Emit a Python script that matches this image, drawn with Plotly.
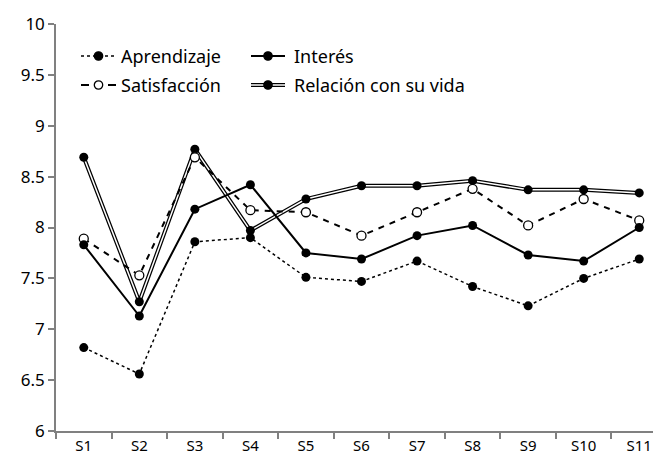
import plotly.graph_objects as go

categories = ["S1", "S2", "S3", "S4", "S5", "S6", "S7", "S8", "S9", "S10", "S11"]
aprendizaje = [6.82, 6.56, 7.86, 7.90, 7.51, 7.47, 7.67, 7.42, 7.23, 7.50, 7.69]
satisfaccion = [7.89, 7.53, 8.69, 8.17, 8.15, 7.92, 8.15, 8.38, 8.02, 8.28, 8.07]
interes = [7.83, 7.13, 8.18, 8.42, 7.75, 7.69, 7.92, 8.02, 7.73, 7.67, 8.00]
relacion = [8.69, 7.27, 8.77, 7.97, 8.28, 8.41, 8.41, 8.46, 8.37, 8.37, 8.34]
y_ticks = [6, 6.5, 7, 7.5, 8, 8.5, 9, 9.5, 10]
legend_names = ["Aprendizaje", "Satisfacción", "Interés", "Relación con su vida"]

FONT = "Noto Sans"
fig = go.Figure()

# Relación: double line (black wide + white narrow)
fig.add_trace(go.Scatter(x=categories, y=relacion, mode="lines",
                         line=dict(color="black", width=4), showlegend=False, hoverinfo="skip"))
fig.add_trace(go.Scatter(x=categories, y=relacion, mode="lines+markers",
                         line=dict(color="white", width=1.5),
                         marker=dict(color="black", size=9, line=dict(width=0)),
                         name=legend_names[3], showlegend=False))
fig.add_trace(go.Scatter(x=categories, y=aprendizaje, mode="lines+markers",
                         line=dict(color="black", width=1.5, dash="dot"),
                         marker=dict(color="black", size=9), name=legend_names[0], showlegend=False))
fig.add_trace(go.Scatter(x=categories, y=satisfaccion, mode="lines+markers",
                         line=dict(color="black", width=2, dash="6px,6px"),
                         marker=dict(color="white", size=9, line=dict(color="black", width=1.3)),
                         name=legend_names[1], showlegend=False))
fig.add_trace(go.Scatter(x=categories, y=interes, mode="lines+markers",
                         line=dict(color="black", width=2),
                         marker=dict(color="black", size=9), name=legend_names[2], showlegend=False))

# Manual legend (pixel -> paper conversion)
L, R, T, B = 48, 659, 16, 423
W, H = R - L, B - T
def px(x):
    return (x - L) / W
def py(y):
    return (B - y) / H

shapes = []
annotations = []
items = [
    (73, 108, 48, 119, legend_names[0], "dot", "black", False),
    (73, 108, 77, 119, legend_names[1], "dash", "white", False),
    (243, 277, 48, 292, legend_names[2], "solid", "black", False),
    (243, 277, 77, 292, legend_names[3], "solid", "black", True),
]
for x0, x1, yy, tx, name, dash, mfill, double in items:
    if dash == "dash":
        shapes.append(dict(type="line", xref="paper", yref="paper", x0=px(x0), x1=px(x0 + 8),
                           y0=py(yy), y1=py(yy), line=dict(color="black", width=2)))
        shapes.append(dict(type="line", xref="paper", yref="paper", x0=px(x1 - 8), x1=px(x1),
                           y0=py(yy), y1=py(yy), line=dict(color="black", width=2)))
    else:
        shapes.append(dict(type="line", xref="paper", yref="paper", x0=px(x0), x1=px(x1),
                           y0=py(yy), y1=py(yy),
                           line=dict(color="black", width=4 if double else (1.5 if dash == "dot" else 2),
                                     dash=dash)))
        if double:
            shapes.append(dict(type="line", xref="paper", yref="paper", x0=px(x0), x1=px(x1),
                               y0=py(yy), y1=py(yy), line=dict(color="white", width=1.5)))
    cx = (x0 + x1) / 2
    r = 4.2
    shapes.append(dict(type="circle", xref="paper", yref="paper",
                       x0=px(cx - r), x1=px(cx + r), y0=py(yy + r), y1=py(yy - r),
                       fillcolor=mfill, line=dict(color="black", width=1.3)))
    annotations.append(dict(text=name, xref="paper", yref="paper", x=px(tx - 8), y=py(yy),
                            xanchor="left", yanchor="middle", showarrow=False,
                            font=dict(family=FONT, size=18, color="black")))

fig.update_layout(
    width=661, height=454,
    margin=dict(l=L, r=661 - R, t=T, b=454 - B),
    plot_bgcolor="white", paper_bgcolor="white",
    shapes=shapes, annotations=annotations,
    font=dict(family=FONT, size=17, color="black"),
    xaxis=dict(type="category", categoryorder="array", categoryarray=categories,
               range=[-0.5, 10.5], showgrid=False, showline=True, linecolor="#808080",
               linewidth=1.5, ticks="outside", tickson="boundaries", ticklen=6,
               tickcolor="#808080", tickwidth=1.5, tickfont=dict(family=FONT, size=15)),
    yaxis=dict(range=[6, 10], tickvals=y_ticks, ticktext=[str(v) for v in y_ticks],
               showgrid=False, zeroline=False, showline=True, linecolor="#808080",
               linewidth=1.5, ticks="outside", ticklen=6, tickcolor="#808080", tickwidth=1.5,
               tickfont=dict(family=FONT, size=17)),
)

fig.write_html("out.html")
